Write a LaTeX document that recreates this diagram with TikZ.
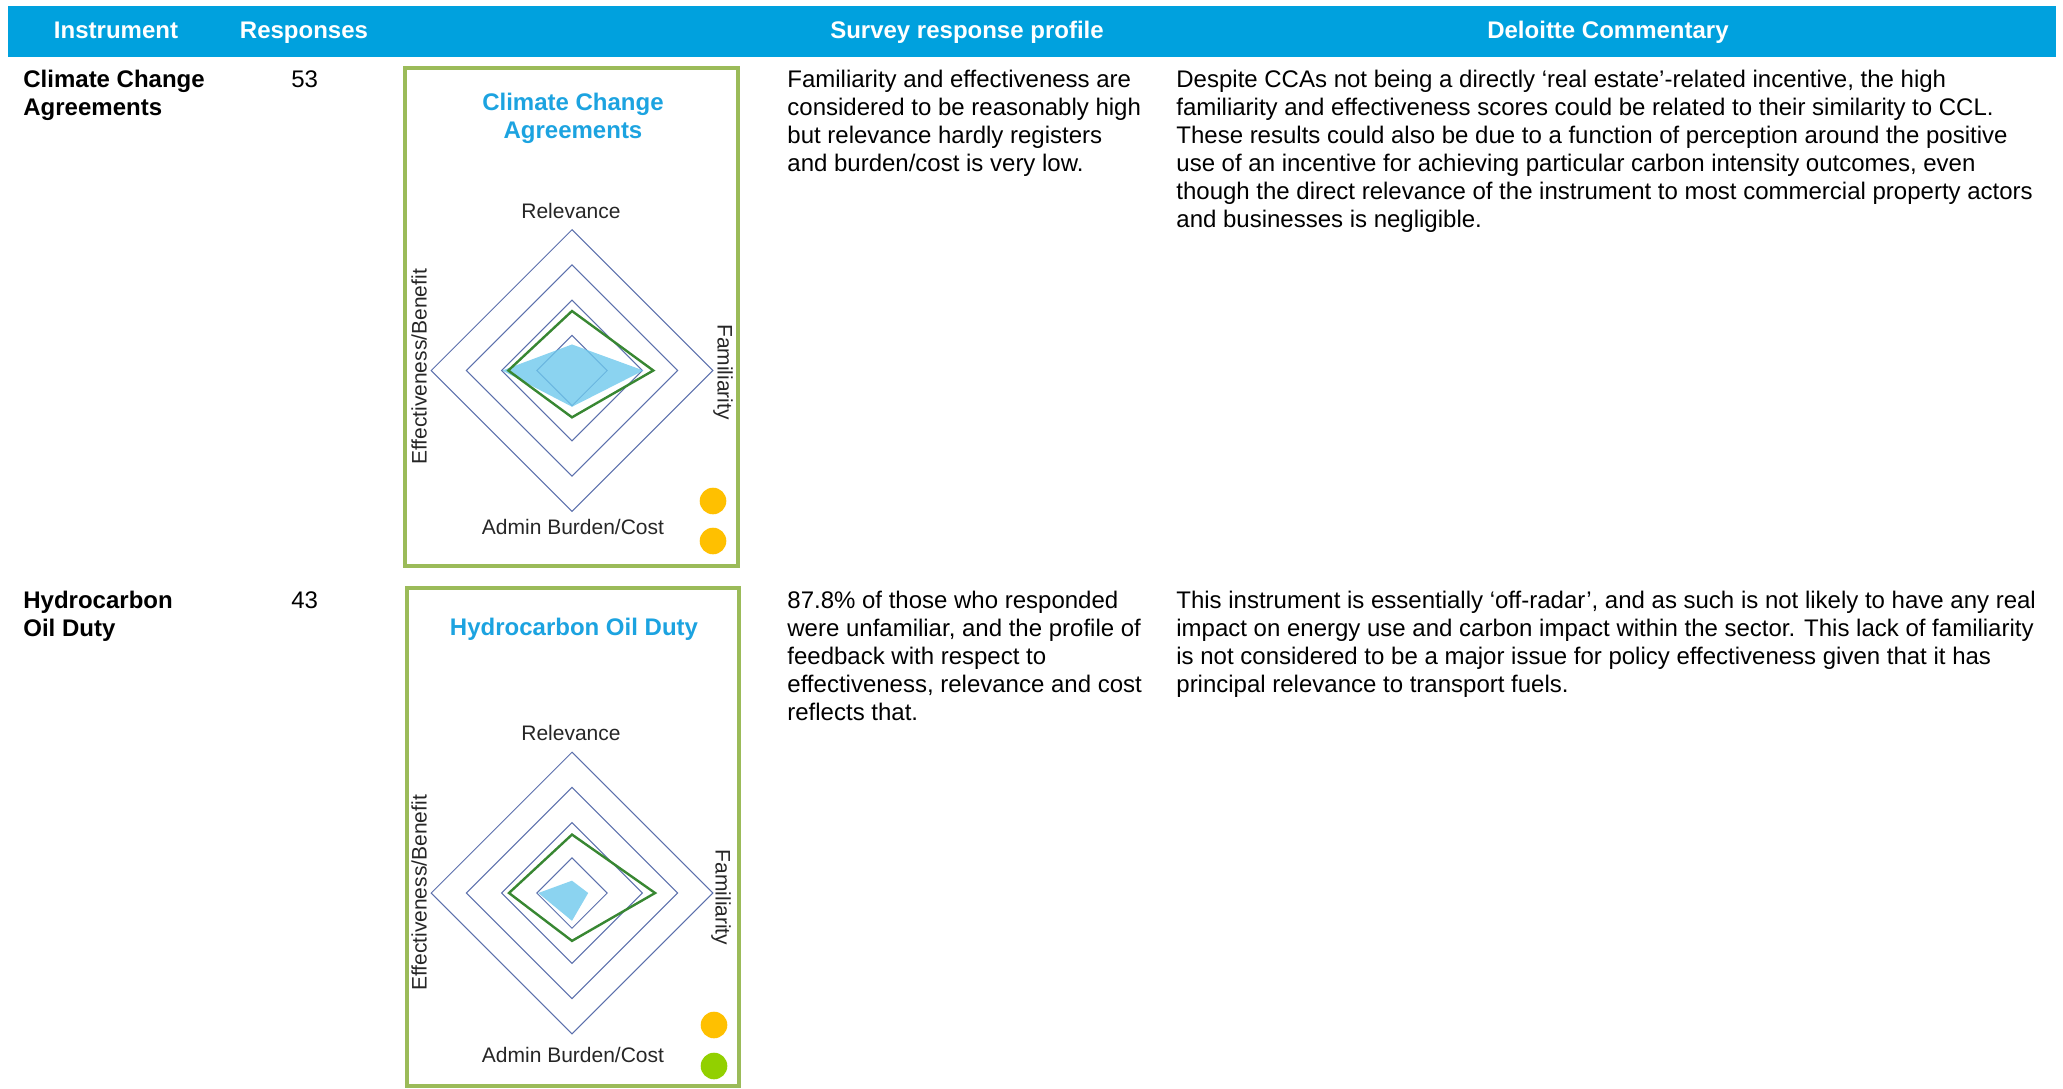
\documentclass[tikz,border=0pt]{standalone}
\usepackage{fontspec}
\setmainfont{Liberation Sans}
\usepackage{tikz}

\definecolor{headblue}{RGB}{0,161,222}
\definecolor{titleblue}{RGB}{28,163,224}
\definecolor{cardgreen}{RGB}{155,187,89}
\definecolor{ringblue}{RGB}{92,112,172}
\definecolor{scoregreen}{RGB}{56,135,50}
\definecolor{replyblue}{RGB}{110,200,236}
\definecolor{amber}{RGB}{255,192,0}
\definecolor{lime}{RGB}{146,208,0}

\begin{document}
\begin{tikzpicture}[x=0.5pt, y=-0.5pt]
      \tikzstyle{head}=[font=\bfseries\fontsize{12}{14}\selectfont, text=white, anchor=base]
      \tikzstyle{body}=[font=\fontsize{12}{14}\selectfont, anchor=north west, inner sep=0pt, align=left]
      \tikzstyle{bodybold}=[body, font=\bfseries\fontsize{12}{14}\selectfont]
      \tikzstyle{card}=[draw=cardgreen, line width=2pt]
      \tikzstyle{cardtitle}=[font=\bfseries\fontsize{12}{14}\selectfont, text=titleblue, align=center, anchor=north, inner sep=0pt]
      \tikzstyle{axis}=[font=\fontsize{10.5}{12}\selectfont, text=black!85, inner sep=0pt]
      \tikzstyle{ring}=[draw=ringblue, line width=0.5pt]
      \tikzstyle{score}=[draw=scoregreen, line width=1.2pt, line join=miter]
      \tikzstyle{reply}=[fill=replyblue, fill opacity=0.8]
      \tikzstyle{dot}=[circle, minimum size=13.3pt, inner sep=0pt]

      \useasboundingbox (0,0) rectangle (2063,1088);

      % header bar
      \fill[headblue] (8,6) rectangle (2056,57);
      \node[head] (instH) at (116,38) {Instrument};
      \node[head] (respH) at (304,38) {Responses};
      \node[head] (profH) at (967,38) {Survey response profile};
      \node[head] (commH) at (1608,38) {Deloitte Commentary};

      % row 1
      \node[bodybold] (instA) at (23,70) {Climate Change\\Agreements};
      \node[body] (respA) at (291,70) {53};
      \node[body] (profA) at (787,70) {Familiarity and effectiveness are\\considered to be reasonably high\\but relevance hardly registers\\and burden/cost is very low.};
      \node[body] (commA) at (1176,70) {Despite CCAs not being a directly ‘real estate’-related incentive, the high\\familiarity and effectiveness scores could be related to their similarity to CCL.\\These results could also be due to a function of perception around the positive\\use of an incentive for achieving particular carbon intensity outcomes, even\\though the direct relevance of the instrument to most commercial property actors\\and businesses is negligible.};

      \draw[card] (404.5,68) rectangle (738,566);
      \node[cardtitle] (titleA) at (573,93) {Climate Change\\Agreements};
      \node[axis, anchor=base] (relA) at (571,218) {Relevance};
      \node[axis, anchor=base] (admA) at (573,534) {Admin Burden/Cost};
      \node[axis, rotate=90] (effA) at (419,367) {Effectiveness/Benefit};
      \node[axis, rotate=-90] (famA) at (723,372) {Familiarity};
      \begin{scope}[shift={(572,370.5)}, x=17.6pt, y=17.6pt]
        \foreach \r in {1,...,4}
          \draw[ring] (0,\r) -- (\r,0) -- (0,-\r) -- (-\r,0) -- cycle;
        \fill[reply] (0,0.74) -- (2.03,0) -- (0,-1.03) -- (-1.98,0) -- cycle;
        \draw[score] (0,1.69) -- (2.31,0) -- (0,-1.33) -- (-1.81,0) -- cycle;
      \end{scope}
      \node[dot, fill=amber] (ragA1) at (713,501) {};
      \node[dot, fill=amber] (ragA2) at (713,541) {};

      % row 2
      \node[bodybold] (instB) at (23,591) {Hydrocarbon\\Oil Duty};
      \node[body] (respB) at (291,591) {43};
      \node[body] (profB) at (787,591) {87.8\% of those who responded\\were unfamiliar, and the profile of\\feedback with respect to\\effectiveness, relevance and cost\\reflects that.};
      \node[body] (commB) at (1176,591) {This instrument is essentially ‘off-radar’, and as such is not likely to have any real\\impact on energy use and carbon impact within the sector. This lack of familiarity\\is not considered to be a major issue for policy effectiveness given that it has\\principal relevance to transport fuels.};

      \draw[card] (407,588) rectangle (739,1086);
      \node[cardtitle] (titleB) at (574,618) {Hydrocarbon Oil Duty};
      \node[axis, anchor=base] (relB) at (571,740) {Relevance};
      \node[axis, anchor=base] (admB) at (573,1062) {Admin Burden/Cost};
      \node[axis, rotate=90] (effB) at (419,893) {Effectiveness/Benefit};
      \node[axis, rotate=-90] (famB) at (721,897.5) {Familiarity};
      \begin{scope}[shift={(572,893)}, x=17.6pt, y=17.6pt]
        \foreach \r in {1,...,4}
          \draw[ring] (0,\r) -- (\r,0) -- (0,-\r) -- (-\r,0) -- cycle;
        \fill[reply] (0,0.35) -- (0.46,0) -- (0,-0.79) -- (-0.96,0) -- cycle;
        \draw[score] (0,1.66) -- (2.36,0) -- (0,-1.36) -- (-1.79,0) -- cycle;
      \end{scope}
      \node[dot, fill=amber] (ragB1) at (714,1025) {};
      \node[dot, fill=lime] (ragB2) at (714,1066) {};
  \end{tikzpicture}
\end{document}
